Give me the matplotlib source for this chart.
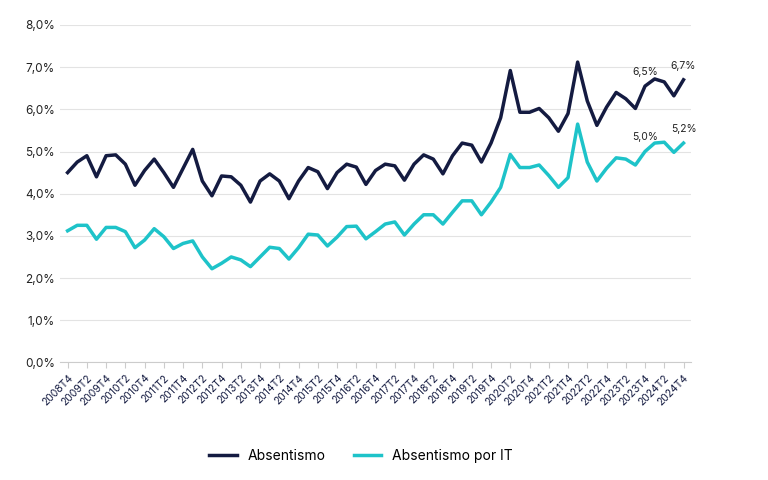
import numpy as np
import matplotlib.pyplot as plt
from matplotlib.ticker import FuncFormatter

plt.rcParams['font.family'] = ['Inter', 'DejaVu Sans']

quarters = ['2008T4'] + [f'{y}T{q}' for y in range(2009, 2025) for q in range(1, 5)]

absentismo = [4.5,
    4.75, 4.9, 4.4, 4.9,
    4.92, 4.7, 4.2, 4.55,
    4.82, 4.5, 4.15, 4.6,
    5.05, 4.3, 3.95, 4.42,
    4.4, 4.2, 3.8, 4.3,
    4.47, 4.3, 3.88, 4.3,
    4.62, 4.52, 4.12, 4.5,
    4.7, 4.63, 4.22, 4.55,
    4.7, 4.66, 4.32, 4.7,
    4.92, 4.82, 4.47, 4.9,
    5.2, 5.15, 4.75, 5.2,
    5.8, 6.92, 5.93, 5.93,
    6.02, 5.8, 5.48, 5.9,
    7.12, 6.2, 5.62, 6.05,
    6.4, 6.25, 6.02, 6.55,
    6.72, 6.65, 6.32, 6.7]

absentismo_it = [3.12,
    3.25, 3.25, 2.92, 3.2,
    3.2, 3.1, 2.72, 2.9,
    3.17, 2.98, 2.7, 2.82,
    2.88, 2.5, 2.22, 2.35,
    2.5, 2.43, 2.27, 2.5,
    2.73, 2.7, 2.45, 2.72,
    3.04, 3.02, 2.76, 2.97,
    3.22, 3.23, 2.93, 3.1,
    3.28, 3.33, 3.02, 3.28,
    3.5, 3.5, 3.28, 3.56,
    3.83, 3.83, 3.5, 3.8,
    4.15, 4.93, 4.62, 4.62,
    4.68, 4.43, 4.15, 4.38,
    5.65, 4.75, 4.3, 4.6,
    4.85, 4.82, 4.68, 5.0,
    5.2, 5.22, 4.98, 5.2]

# etiquetas
labels_abs = {60: '6,5%', 64: '6,7%'}
labels_it = {60: '5,0%', 64: '5,2%'}

dark = '#141b41'
cyan = '#1ec3c9'

fig, ax = plt.subplots(figsize=(7.68, 4.8), dpi=100)
fig.subplots_adjust(left=0.078, right=0.9, top=0.948, bottom=0.245)

x = np.arange(len(quarters))
ax.plot(x, absentismo, color=dark, lw=2.5, label='Absentismo')
ax.plot(x, absentismo_it, color=cyan, lw=2.5, label='Absentismo por IT')

for i, t in labels_abs.items():
    ax.annotate(t, (x[i], absentismo[i]), xytext=(0, 8), textcoords='offset points',
                ha='center', fontsize=7.5, color='#222222')
for i, t in labels_it.items():
    ax.annotate(t, (x[i], absentismo_it[i]), xytext=(0, 8), textcoords='offset points',
                ha='center', fontsize=7.5, color='#222222')

ax.set_ylim(0, 8)
ax.set_yticks(np.arange(0, 9, 1))
ax.yaxis.set_major_formatter(FuncFormatter(lambda v, p: f'{v:.1f}%'.replace('.', ',')))
ax.set_xlim(-0.8, len(quarters) - 0.2)
ax.set_xticks(x[::2])
ax.set_xticklabels(quarters[::2], rotation=45, ha='right', rotation_mode='anchor', fontsize=7.5, color=dark)
ax.tick_params(axis='y', length=0, labelsize=8.5, colors='#222222')
ax.tick_params(axis='x', length=4, color='#cccccc')
ax.grid(axis='y', color='#e3e3e3', lw=0.8)
ax.set_axisbelow(True)
for s in ['top', 'right', 'left']:
    ax.spines[s].set_visible(False)
ax.spines['bottom'].set_color('#cccccc')

fig.legend(loc='lower center', bbox_to_anchor=(0.47, 0.01), ncol=2, frameon=False, fontsize=10,
           handlelength=2)
fig.savefig('out.png', dpi=100)
